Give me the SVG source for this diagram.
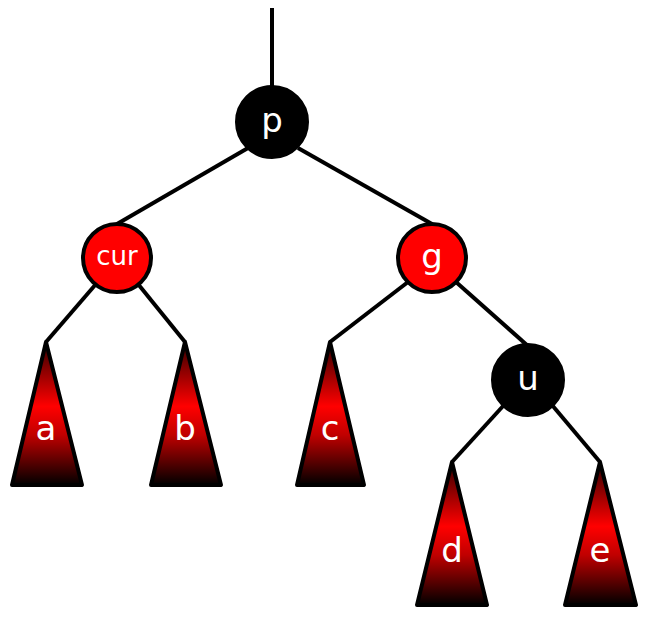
<svg xmlns="http://www.w3.org/2000/svg" width="652" height="622" viewBox="0 0 652 622">
<defs>
<linearGradient id="tg" x1="0" y1="0" x2="0" y2="1">
<stop offset="0" stop-color="#300000"/>
<stop offset="0.45" stop-color="#ff0000"/>
<stop offset="0.65" stop-color="#c00000"/>
<stop offset="1" stop-color="#000000"/>
</linearGradient>
</defs>
<style>
.e{stroke:#000;stroke-width:4;fill:none}
.red{fill:#ff0000;stroke:#000;stroke-width:4}
.blk{fill:#000;stroke:#000;stroke-width:4}
.tri{fill:url(#tg);stroke:#000;stroke-width:4;stroke-linejoin:round}
.t{fill:#fff;font-family:"DejaVu Sans",sans-serif;font-size:34px;text-anchor:middle;dominant-baseline:central}
.s{font-size:26px}
</style>
<g id="connectors">
<line class="e" x1="272" y1="8" x2="272" y2="100"/>
<line class="e" x1="248" y1="148" x2="117" y2="224"/>
<line class="e" x1="298" y1="148" x2="432" y2="224"/>
<line class="e" x1="96" y1="284" x2="46" y2="342"/>
<line class="e" x1="138" y1="284" x2="185" y2="342"/>
<line class="e" x1="408" y1="282" x2="330" y2="342"/>
<line class="e" x1="456" y1="282" x2="528" y2="346"/>
<line class="e" x1="504" y1="405" x2="452" y2="462"/>
<line class="e" x1="552" y1="405" x2="600" y2="462"/>
</g>
<g id="p"><circle class="blk" cx="272" cy="122" r="35"/><text class="t" x="272" y="120">p</text></g>
<g id="cur"><circle class="red" cx="117" cy="258" r="34"/><text class="t s" x="117" y="256">cur</text></g>
<g id="g"><circle class="red" cx="432" cy="258" r="34"/><text class="t" x="432" y="256">g</text></g>
<g id="u"><circle class="blk" cx="528" cy="380" r="35"/><text class="t" x="528" y="378">u</text></g>
<g id="a"><polygon class="tri" points="46,342 82,485 12,485"/><text class="t" x="46" y="428">a</text></g>
<g id="b"><polygon class="tri" points="185,342 221,485 151,485"/><text class="t" x="185" y="428">b</text></g>
<g id="c"><polygon class="tri" points="330,342 364,485 297,485"/><text class="t" x="330" y="428">c</text></g>
<g id="d"><polygon class="tri" points="452,462 487,605 417,605"/><text class="t" x="452" y="550">d</text></g>
<g id="e"><polygon class="tri" points="600,462 636,605 565,605"/><text class="t" x="600" y="550">e</text></g>
</svg>
